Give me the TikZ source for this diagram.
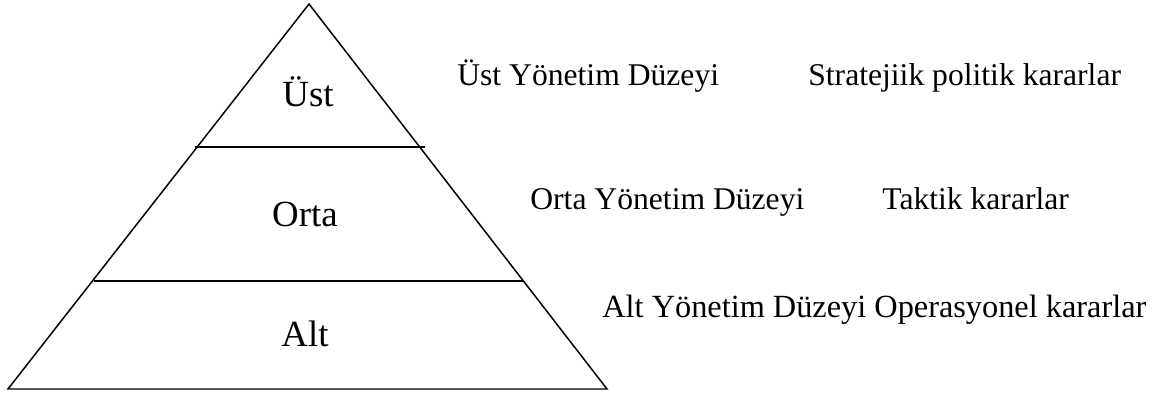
\documentclass[tikz,border=0pt]{standalone}
\usepackage{fontspec}
\setmainfont{Liberation Serif}
\usetikzlibrary{positioning}
\tikzstyle{level}=[inner sep=0pt, anchor=base, font=\fontsize{21}{25}\selectfont]
\tikzstyle{desc}=[inner sep=0pt, anchor=base west, font=\fontsize{18}{22}\selectfont]
\tikzstyle{edge}=[line width=0.85pt, line join=miter]
\tikzstyle{cut}=[line width=1.25pt]

\begin{document}
\begin{tikzpicture}[x=0.02cm, y=-0.02cm]
  \useasboundingbox (0,0) rectangle (1155,394);

  % pyramid
  \coordinate (top) at (309,4);
  \coordinate (bl) at (8,389);
  \coordinate (br) at (607,389);
  \coordinate (l1) at (195,147);
  \coordinate (r1) at (425,147);
  \coordinate (l2) at (94,281);
  \coordinate (r2) at (524,281);

  \draw[edge] (top) -- (br) -- (bl) -- cycle;
  \draw[cut] (l1) -- (r1);
  \draw[cut] (l2) -- (r2);

  \node[level] at (308,107) (ust) {Üst};
  \node[level] at (305,227) (orta) {Orta};
  \node[level] at (305,347) (alt) {Alt};

  % levels and decisions
  \node[desc] at (457,86) (ustyon) {Üst Yönetim Düzeyi};
  \node[desc] at (808,86) (ustkar) {Stratejiik politik kararlar};
  \node[desc] at (530,210) (ortayon) {Orta Yönetim Düzeyi};
  \node[desc] at (882,210) (ortakar) {Taktik kararlar};
  \node[desc, font=\fontsize{18.4}{22}\selectfont] at (602,318) (altyon) {Alt Yönetim Düzeyi Operasyonel kararlar};
\end{tikzpicture}
\end{document}
